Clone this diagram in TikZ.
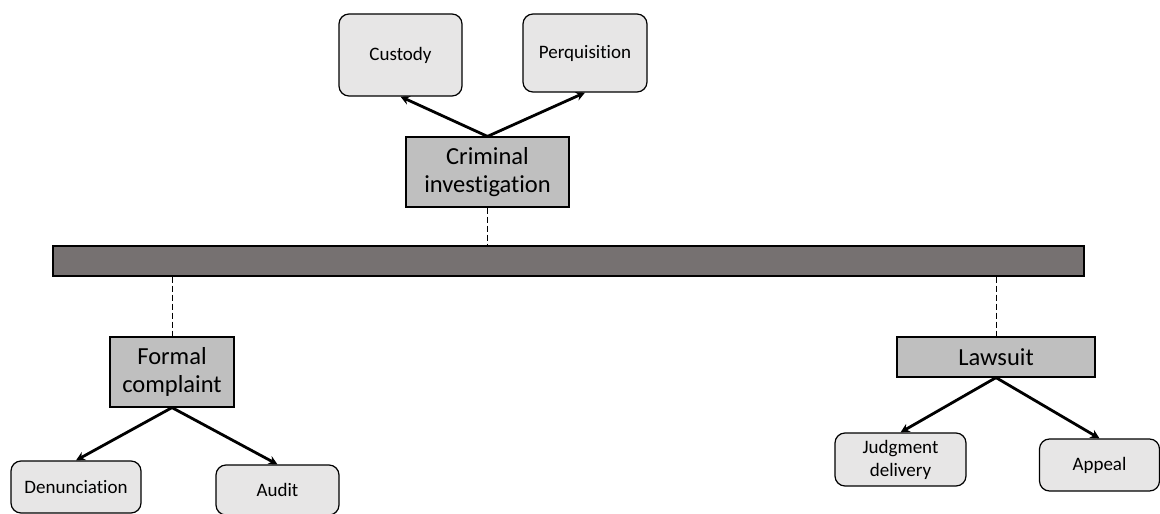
\documentclass[tikz,border=0pt]{standalone}
\usepackage{fontspec}
\setmainfont[Ligatures={NoCommon}]{Carlito}
\usetikzlibrary{arrows.meta}

\definecolor{leafgray}{HTML}{E7E6E6}
\definecolor{stagegray}{HTML}{BFBFBF}
\definecolor{bargray}{HTML}{767171}

\begin{document}
\begin{tikzpicture}[x=1pt, y=-1pt,
    leaf/.style={draw, line width=1.2pt, fill=leafgray, rounded corners=10pt,
      inner sep=0pt, align=center, font=\fontsize{19}{23}\selectfont},
    stage/.style={draw, line width=1.2pt, fill=stagegray, inner sep=0pt,
      align=center, font=\fontsize{24.5}{28}\selectfont},
    branch/.style={line width=2.8pt, -{Stealth[length=9pt,width=9pt]}},
    link/.style={line width=0.9pt, dash pattern=on 6pt off 3pt}]
      \useasboundingbox (0,0) rectangle (1160,514);

\node[stage, minimum width=163pt, minimum height=70pt] (crim) at (487.5,172) {Criminal\\investigation};
\node[leaf, minimum width=123pt, minimum height=82pt] (custody) at (400.5,55) {Custody};
\node[leaf, minimum width=124pt, minimum height=78pt] (perq) at (585,53) {Perquisition};

\node[draw, line width=1.2pt, fill=bargray, inner sep=0pt,
  minimum width=1031pt, minimum height=30pt] (bar) at (568.5,261) {};

\node[stage, minimum width=124pt, minimum height=70pt] (formal) at (172,372) {Formal\\complaint};
\node[leaf, minimum width=130pt, minimum height=52pt] (denun) at (76,487) {Denunciation};
\node[leaf, minimum width=123pt, minimum height=50pt] (audit) at (277.5,490) {Audit};

\node[stage, minimum width=198pt, minimum height=40pt] (lawsuit) at (996,357) {Lawsuit};
\node[leaf, minimum width=131pt, minimum height=53pt] (judg) at (900.5,459.5) {Judgment\\delivery};
\node[leaf, minimum width=120pt, minimum height=52pt] (appeal) at (1099.5,465) {Appeal};

% stages hang from the bar
\draw[link] (crim.south) -- (crim.south |- bar.north);
\draw[link] (formal.north |- bar.south) -- (formal.north);
\draw[link] (lawsuit.north |- bar.south) -- (lawsuit.north);

% sub-steps
\draw[branch] (crim.north) -- (custody.south);
\draw[branch] (crim.north) -- (perq.south);
\draw[branch] (formal.south) -- (denun.north);
\draw[branch] (formal.south) -- (audit.north);
\draw[branch] (lawsuit.south) -- (judg.north);
\draw[branch] (lawsuit.south) -- (appeal.north);

    \end{tikzpicture}
\end{document}
